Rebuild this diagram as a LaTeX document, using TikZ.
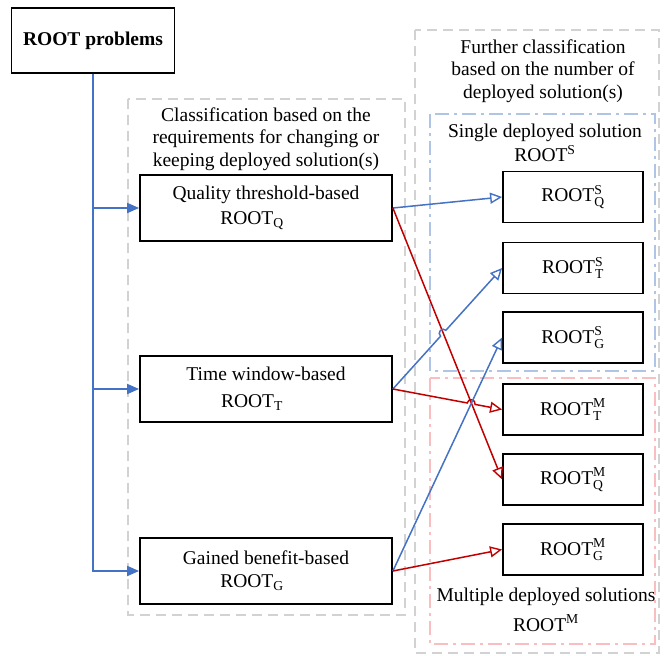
\documentclass[tikz,border=0pt]{standalone}
\usepackage{fontspec}
\setmainfont{Liberation Serif}
\usetikzlibrary{arrows.meta,calc,intersections}
\definecolor{lineblue}{RGB}{68,114,196}
\definecolor{linered}{RGB}{192,0,0}
\definecolor{framegray}{RGB}{210,210,210}
\definecolor{frameblue}{RGB}{176,196,230}
\definecolor{framepink}{RGB}{250,190,192}
\newcommand{\rootlab}[2]{ROOT$^{\mathrm{#1}}_{\mathrm{#2}}$}

\begin{document}
\begin{tikzpicture}[x=1pt,y=-1pt,
    font=\fontsize{19.5}{22.5}\selectfont,
    box/.style={draw,line width=1.8pt,minimum width=252pt,minimum height=66pt,inner sep=0pt,align=center},
    subbox/.style={draw,line width=1.8pt,minimum width=140pt,minimum height=51pt,inner sep=0pt},
    grayframe/.style={draw=framegray,line width=2.6pt,dash pattern=on 10pt off 6pt},
    blueframe/.style={draw=frameblue,line width=2.2pt,dash pattern=on 14pt off 5pt on 3pt off 5pt},
    pinkframe/.style={draw=framepink,line width=2.2pt,dash pattern=on 14pt off 5pt on 3pt off 5pt},
    tree/.style={draw=lineblue,line width=1.8pt,-{Triangle[length=12pt,width=10pt]}},
    bluearr/.style={draw=lineblue,line width=1.5pt,-{Triangle[open,length=12pt,width=11pt,line width=1.4pt]}},
    redarr/.style={draw=linered,line width=1.5pt,-{Triangle[open,length=12pt,width=11pt,line width=1.4pt]}}]
  \useasboundingbox (0,0) rectangle (665,656);

  % frames
  \draw[grayframe] (128,99) rectangle (405,615);
  \draw[grayframe] (415,30) rectangle (659,653);
  \draw[blueframe] (430,114) rectangle (655,371);
  \draw[pinkframe] (430,378) rectangle (655,644);

  \node[align=center] (lefttitle) at (266,139) {Classification based on the\\requirements for changing or\\keeping deployed solution(s)};
  \node[align=center] (righttitle) at (543,71) {Further classification\\based on the number of\\deployed solution(s)};
  \node[align=center] (singlelab) at (545,143) {Single deployed solution\\[2pt]ROOT$^{\mathrm{S}}$};
  \node[align=center] (multilab) at (546,610) {Multiple deployed solutions\\[7pt]ROOT$^{\mathrm{M}}$};

  % boxes
  \node[draw,line width=1.8pt,minimum width=163pt,minimum height=65pt,font=\fontsize{19.5}{22.5}\selectfont\bfseries] (root) at (93,40.5) {ROOT problems};
  \node[box] (qual) at (266,208) {Quality threshold-based\\[3pt]ROOT$_{\mathrm{Q}}$\hspace*{28pt}};
  \node[box] (time) at (266,389) {Time window-based\\[4pt]ROOT$_{\mathrm{T}}$\hspace*{28pt}};
  \node[box] (gain) at (266,571) {Gained benefit-based\\ROOT$_{\mathrm{G}}$\hspace*{28pt}};

  \node[subbox] (sq) at (573,197) {\rootlab{S}{Q}};
  \node[subbox] (st) at (573,268) {\rootlab{S}{T}};
  \node[subbox] (sg) at (573,337.5) {\rootlab{S}{G}};
  \node[subbox] (mt) at (573,409.5) {\rootlab{M}{T}};
  \node[subbox] (mq) at (573,479.5) {\rootlab{M}{Q}};
  \node[subbox] (mg) at (573,549.5) {\rootlab{M}{G}};

  % tree on the left
  \draw[tree] (root.south) |- (gain.west);
  \draw[tree] (root.south |- qual.west) -- (qual.west);
  \draw[tree] (root.south |- time.west) -- (time.west);

  % where the crossing lines hop
  \path[name path=qm] (qual.east) -- (mq.west);
  \path[name path=ts] (time.east) -- (st.west);
  \path[name path=gs] (gain.east) -- (sg.west);
  \path[name path=tm] (time.east) -- (mt.west);
  \path[name intersections={of=qm and ts,by=hopa}];
  \path[name intersections={of=gs and tm,by=hopb}];

  % connectors to the right
  \draw[bluearr] (qual.east) -- (sq.west);
  \draw[redarr] (qual.east) -- (mq.west);
  \draw[bluearr] let \p1=($(st.west)-(time.east)$), \n1={atan2(\y1,\x1)} in
    (time.east) -- ($(hopa)!4pt!(time.east)$) arc[start angle=\n1+180,end angle=\n1,radius=4pt] -- (st.west);
  \draw[redarr] let \p1=($(mt.west)-(time.east)$), \n1={atan2(\y1,\x1)} in
    (time.east) -- ($(hopb)!4pt!(time.east)$) arc[start angle=\n1+180,end angle=\n1,radius=4pt] -- (mt.west);
  \draw[bluearr] (gain.east) -- (sg.west);
  \draw[redarr] (gain.east) -- (mg.west);
\end{tikzpicture}
\end{document}
